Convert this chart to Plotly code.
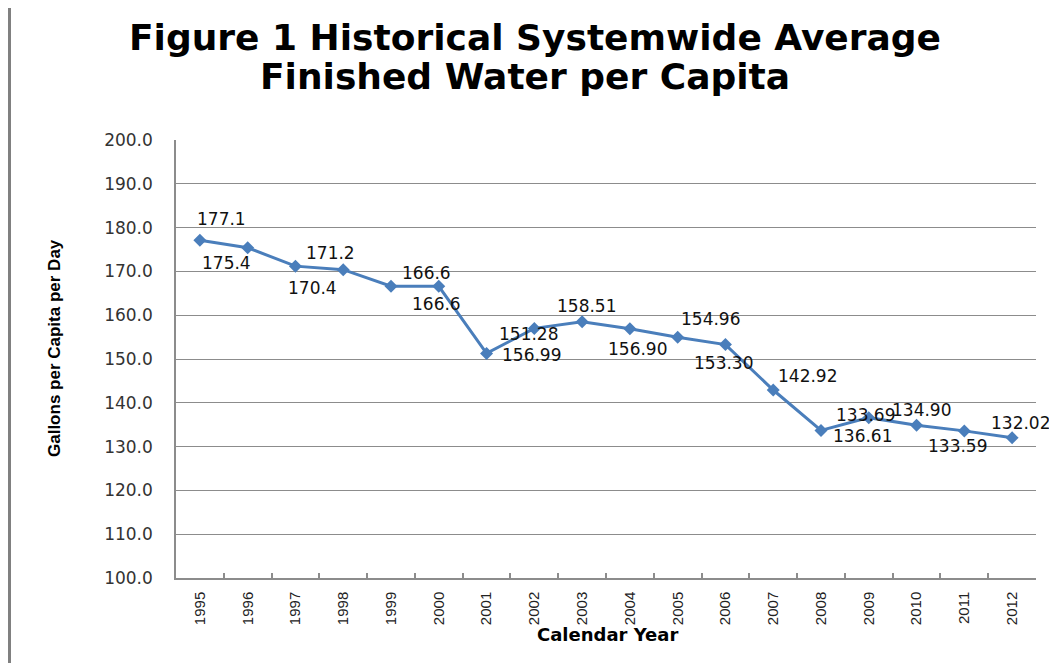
import plotly.graph_objects as go

# ---- data ----
years = ["1995", "1996", "1997", "1998", "1999", "2000", "2001", "2002", "2003",
         "2004", "2005", "2006", "2007", "2008", "2009", "2010", "2011", "2012"]
gpcd = [177.1, 175.4, 171.2, 170.4, 166.6, 166.6, 151.28, 156.99, 158.51,
        156.90, 154.96, 153.30, 142.92, 133.69, 136.61, 134.90, 133.59, 132.02]
gpcd_labels = ["177.1", "175.4", "171.2", "170.4", "166.6", "166.6", "151.28", "156.99",
               "158.51", "156.90", "154.96", "153.30", "142.92", "133.69", "136.61",
               "134.90", "133.59", "132.02"]
y_ticks = [100, 110, 120, 130, 140, 150, 160, 170, 180, 190, 200]
y_tick_text = ["100.0", "110.0", "120.0", "130.0", "140.0", "150.0", "160.0", "170.0",
               "180.0", "190.0", "200.0"]

# ---- style ----
OFF = 8                      # default page margin of the html body
W, H = 1057 - OFF, 663 - OFF
L, T = 176 - OFF, 140 - OFF
pw, ph = 860, 438
R, B = W - L - pw, H - T - ph

def px_x(px):                # screen pixel -> paper x
    return (px - OFF - L) / pw

def px_y(py):                # screen pixel -> paper y
    return (T + ph - (py - OFF)) / ph

line_color = "#4A7EBB"
grid_color = "#8C8C8C"
# label offsets (dx, dy in screen pixels) relative to each point
label_offsets = [(22, -21), (-21, 15), (35, -13), (-31, 18), (35, -13), (-2, 18),
                 (42, -19), (-3, 27), (4, -16), (8, 20), (33, -18), (-2, 18),
                 (34, -14), (44, -15), (-6, 18), (5, -15), (-7, 15), (8, -15)]

fig = go.Figure()
fig.add_trace(go.Scatter(
    x=years, y=gpcd, mode="lines+markers",
    line=dict(color=line_color, width=3),
    marker=dict(symbol="diamond", size=10, color=line_color),
    hoverinfo="x+y", showlegend=False,
))

annotations = []
for i, (v, txt, (dx, dy)) in enumerate(zip(gpcd, gpcd_labels, label_offsets)):
    annotations.append(dict(
        x=i, y=v, xref="x", yref="y", text=txt, showarrow=False,
        xshift=dx, yshift=-dy, xanchor="center", yanchor="middle",
        font=dict(family="DejaVu Sans", size=17, color="#111111"),
    ))

# titles
annotations.append(dict(
    x=px_x(535), y=px_y(38), xref="paper", yref="paper", showarrow=False,
    text="Figure 1 Historical Systemwide Average", xanchor="center", yanchor="middle",
    font=dict(family="DejaVu Sans", size=36, color="#000000", weight="bold"),
))
annotations.append(dict(
    x=px_x(525), y=px_y(76), xref="paper", yref="paper", showarrow=False,
    text="Finished Water per Capita", xanchor="center", yanchor="middle",
    font=dict(family="DejaVu Sans", size=36, color="#000000", weight="bold"),
))
annotations.append(dict(
    x=px_x(607), y=px_y(634), xref="paper", yref="paper", showarrow=False,
    text="Calendar Year", xanchor="center", yanchor="middle",
    font=dict(family="DejaVu Sans", size=18, color="#000000", weight="bold"),
))
annotations.append(dict(
    x=px_x(54), y=px_y(348), xref="paper", yref="paper", showarrow=False,
    text="Gallons per Capita per Day", textangle=-90, xanchor="center", yanchor="middle",
    font=dict(family="Liberation Sans", size=17, color="#000000", weight="bold"),
))

shapes = [
    dict(type="line", xref="paper", yref="paper",
         x0=px_x(9.5), x1=px_x(1060), y0=px_y(5.5), y1=px_y(5.5),
         line=dict(color="#808080", width=1.5)),
    dict(type="line", xref="paper", yref="paper",
         x0=px_x(9.5), x1=px_x(9.5), y0=px_y(5.5), y1=px_y(670),
         line=dict(color="#808080", width=3)),
]

fig.update_layout(
    width=W, height=H,
    margin=dict(l=L, r=R, t=T, b=B, pad=0),
    paper_bgcolor="white", plot_bgcolor="white",
    annotations=annotations, shapes=shapes,
    font=dict(family="Liberation Sans"),
)
fig.update_xaxes(
    type="category", range=[-0.5, len(years) - 0.5],
    showline=True, linecolor=grid_color, linewidth=1.5, mirror=False,
    showgrid=False, ticks="inside", tickson="boundaries", ticklen=5,
    tickcolor=grid_color, tickwidth=1.5,
    tickangle=-90, tickfont=dict(family="Liberation Sans", size=15, color="#222222"),
    ticklabelstandoff=6,
)
fig.update_yaxes(
    range=[100, 200], tickmode="array", tickvals=y_ticks, ticktext=y_tick_text,
    showline=True, linecolor=grid_color, linewidth=1.5,
    showgrid=True, gridcolor=grid_color, gridwidth=1, zeroline=False,
    ticks="", tickfont=dict(family="DejaVu Sans", size=17, color="#333333"),
    ticklabelstandoff=18,
)

fig.write_html("out.html")
